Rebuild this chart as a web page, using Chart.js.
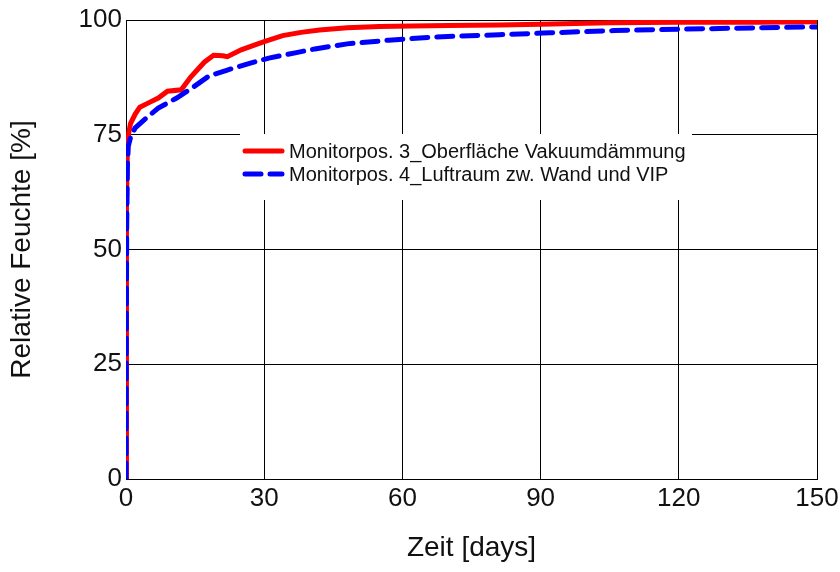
<!DOCTYPE html>
<html>
<head>
<meta charset="utf-8">
<script src="https://cdn.jsdelivr.net/npm/chart.js@4/dist/chart.umd.min.js"></script>
<style>
  html, body { margin: 0; padding: 0; background: #fff; }
  #wrap { width: 840px; height: 572px; }
</style>
</head>
<body>
<div id="wrap"><canvas id="rhChart" width="840" height="572"></canvas></div>
<script>
// Messreihen
const labels = ["Monitorpos. 3_Oberfläche Vakuumdämmung", "Monitorpos. 4_Luftraum zw. Wand und VIP"];
const xTicks = [0, 30, 60, 90, 120, 150];
const yTicks = [0, 25, 50, 75, 100];

const days3 = [0, 0.05, 0.15, 0.3, 0.6, 1, 2, 3, 5, 7, 9, 12, 14, 17, 19, 21, 22, 25, 28, 30, 34, 38, 42, 48, 55, 62, 70, 81, 90, 100, 105, 120, 137, 150];
const rh3   = [0, 30, 60, 72, 75.5, 77.5, 79.5, 81, 82, 83, 84.5, 84.8, 87.5, 90.8, 92.3, 92.2, 92, 93.5, 94.6, 95.3, 96.6, 97.3, 97.8, 98.3, 98.6, 98.7, 98.8, 98.9, 99.1, 99.3, 99.4, 99.5, 99.5, 99.6];

const days4 = [0, 0.05, 0.15, 0.3, 0.5, 1, 2, 4, 7, 11, 14.5, 18, 22, 27, 31, 37, 41, 48, 57, 67, 81, 92, 106, 121, 137, 150];
const rh4   = [0, 25, 55, 68, 72.5, 74.5, 76.5, 78.3, 80.8, 83, 85.3, 87.8, 89.1, 90.6, 91.7, 92.9, 93.7, 94.8, 95.6, 96.3, 96.8, 97.2, 97.7, 98, 98.3, 98.5];

const FONT = '"Liberation Sans", Arial, Helvetica, sans-serif';

// Legende im Diagramm (weisser Kasten ueber dem Gitter)
const legendBox = {
    id: 'legendBox',
    beforeDatasetsDraw(chart) {
        const c = chart.ctx;
        c.save();
        c.fillStyle = '#fff';
        c.fillRect(240, 134, 452, 66);
        c.restore();
    },
    afterDraw(chart) {
        const c = chart.ctx;
        c.save();
        c.lineWidth = 5;
        c.lineCap = 'round';
        chart.data.datasets.forEach((ds, k) => {
            const y = 151 + k * 23;
            c.strokeStyle = ds.borderColor;
            c.setLineDash(ds.borderDash || []);
            c.beginPath();
            c.moveTo(245, y);
            c.lineTo(282, y);
            c.stroke();
            c.setLineDash([]);
            c.fillStyle = '#111';
            c.font = '20px ' + FONT;
            c.textBaseline = 'middle';
            c.fillText(ds.label, 289, y + 1);
        });
        c.restore();
    }
};

new Chart(document.getElementById("rhChart"), {
    type: "line",
    data: {
        datasets: [{
            label: labels[0],
            data: days3.map((d, k) => ({x: d, y: rh3[k]})),
            borderColor: "#ff0000",
            borderWidth: 5,
            pointRadius: 0,
            clip: 0,
            order: 2
        }, {
            label: labels[1],
            data: days4.map((d, k) => ({x: d, y: rh4[k]})),
            borderColor: "#0000ff",
            borderWidth: 5,
            borderDash: [16, 9],
            borderCapStyle: 'round',
            pointRadius: 0,
            clip: 0,
            order: 1
        }]
    },
    options: {
        responsive: false,
        animation: false,
        layout: { padding: { top: 20, right: 23, left: 0, bottom: 0 } },
        plugins: { legend: { display: false }, tooltip: { enabled: false } },
        scales: {
            x: {
                type: 'linear',
                min: 0, max: 150,
                afterBuildTicks: s => { s.ticks = xTicks.map(v => ({value: v})); },
                afterFit: s => { s.height = 93; s.paddingLeft = 0; s.paddingRight = 0; },
                grid: { color: '#000', lineWidth: 1, drawTicks: false },
                border: { color: '#000', width: 1 },
                ticks: { color: '#111', font: { family: FONT, size: 26 }, padding: 4, maxRotation: 0 },
                title: { display: true, text: 'Zeit [days]', color: '#111', font: { family: FONT, size: 28 }, padding: { top: 0, bottom: 7 } }
            },
            y: {
                min: 0, max: 100,
                afterBuildTicks: s => { s.ticks = yTicks.map(v => ({value: v})); },
                afterFit: s => { s.width = 126; s.paddingTop = 0; s.paddingBottom = 0; },
                grid: { color: '#000', lineWidth: 1, drawTicks: false },
                border: { color: '#000', width: 1 },
                ticks: { color: '#111', font: { family: FONT, size: 26 }, padding: 4 },
                title: { display: true, text: 'Relative Feuchte [%]', color: '#111', font: { family: FONT, size: 28 }, padding: { top: 5, bottom: 0 } }
            }
        }
    },
    plugins: [legendBox]
});
</script>
</body>
</html>
